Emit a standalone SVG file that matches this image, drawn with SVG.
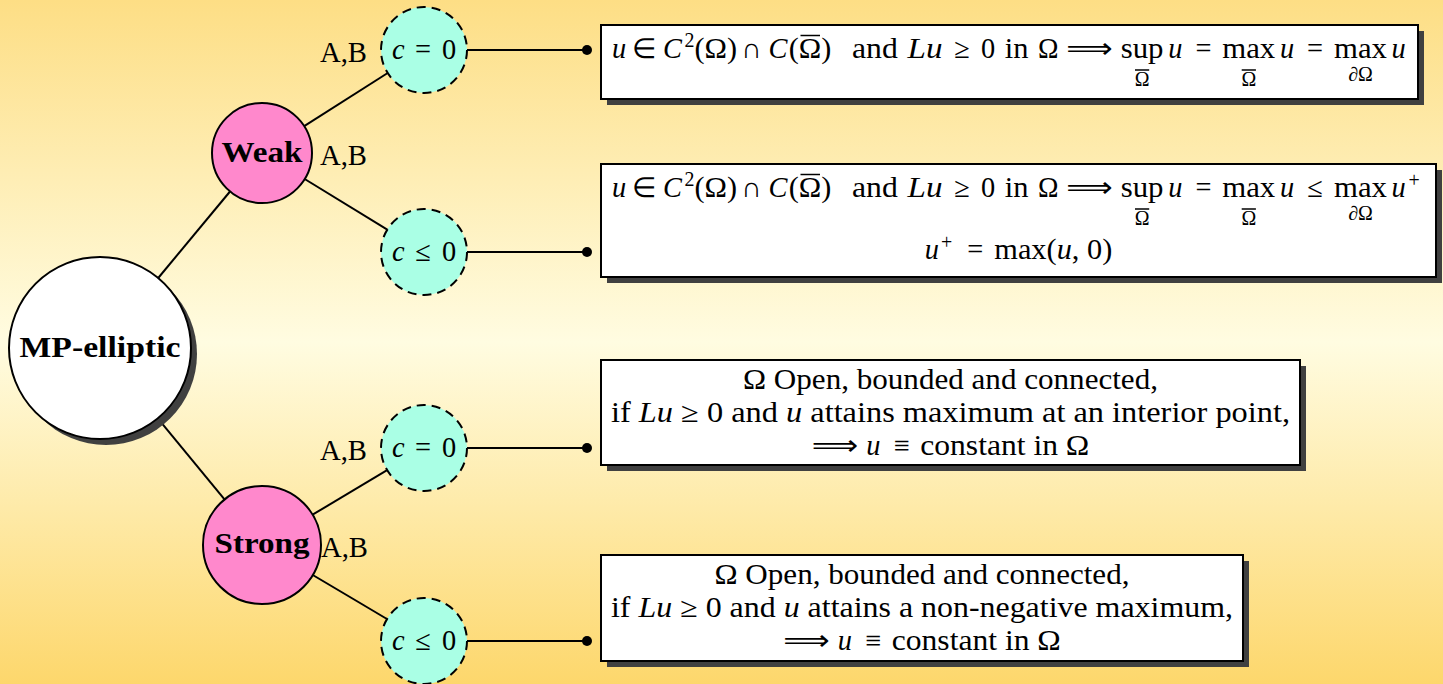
<svg xmlns="http://www.w3.org/2000/svg" width="1443" height="684" viewBox="0 0 1443 684" font-family="Liberation Serif, serif">
<defs>
<linearGradient id="bg" x1="0" y1="0" x2="0" y2="1">
<stop offset="0" stop-color="#FDDE85"/>
<stop offset="0.5" stop-color="#FFFCE1"/>
<stop offset="1" stop-color="#FDD76C"/>
</linearGradient>
</defs>
<style>
text{font-family:'Liberation Serif','Times New Roman',serif;font-size:28.4px;fill:#000}
.i{font-style:italic}
.s{font-size:19.9px}
.b{font-weight:bold}
text.ar{font-family:'DejaVu Sans',sans-serif}
.m{text-anchor:middle}
.edge{stroke:#000;stroke-width:2;fill:none}
.dot{fill:#000}
.shadow{fill:#404040}
.box{fill:#fff;stroke:#000;stroke-width:2}
.cn{fill:#AAFFE5;stroke:#000;stroke-width:2;stroke-dasharray:9 6}
.pk{fill:#FF88CC;stroke:#000;stroke-width:2}
.wh{fill:#fff;stroke:#000;stroke-width:2}
.ol{stroke:#000;stroke-width:1.5}
</style>
<rect x="0" y="0" width="1443" height="684" fill="url(#bg)"/>

<g id="connectors">
<line class="edge" x1="158.2" y1="278" x2="230" y2="191.5"/>
<line class="edge" x1="157.8" y1="418.3" x2="224.5" y2="499.4"/>
<line class="edge" x1="304.2" y1="126.2" x2="387.7" y2="73"/>
<line class="edge" x1="304.7" y1="179" x2="387.3" y2="229.6"/>
<line class="edge" x1="312.6" y1="514.7" x2="387.1" y2="470.1"/>
<line class="edge" x1="312.8" y1="575" x2="387" y2="619"/>
<line class="edge" x1="467" y1="50" x2="587" y2="50"/>
<circle class="dot" cx="587" cy="50" r="5"/>
<line class="edge" x1="467" y1="252" x2="587" y2="252"/>
<circle class="dot" cx="587" cy="252" r="5"/>
<line class="edge" x1="467" y1="448" x2="587" y2="448"/>
<circle class="dot" cx="587" cy="448" r="5"/>
<line class="edge" x1="467" y1="641" x2="587" y2="641"/>
<circle class="dot" cx="587" cy="641" r="5"/>
<text x="320" y="62" textLength="47" lengthAdjust="spacingAndGlyphs">A,B</text>
<text x="320" y="165" textLength="47" lengthAdjust="spacingAndGlyphs">A,B</text>
<text x="320" y="460" textLength="47" lengthAdjust="spacingAndGlyphs">A,B</text>
<text x="321" y="557" textLength="47" lengthAdjust="spacingAndGlyphs">A,B</text>
</g>

<g id="mp">
<circle class="shadow" cx="106" cy="354" r="91"/>
<circle class="wh" cx="100" cy="348" r="91"/>
<text class="b" x="19.5" y="357" textLength="161" lengthAdjust="spacingAndGlyphs">MP-elliptic</text>
</g>

<g id="weak">
<circle class="pk" cx="262" cy="153" r="50"/>
<text class="b" x="221.5" y="162" textLength="81" lengthAdjust="spacingAndGlyphs">Weak</text>
</g>

<g id="strong">
<circle class="pk" cx="262" cy="545" r="59"/>
<text class="b" x="214.5" y="553" textLength="95" lengthAdjust="spacingAndGlyphs">Strong</text>
</g>

<g id="c1">
<circle class="cn" cx="424" cy="50" r="43"/>
<text class="i" x="392" y="59">c</text>
<text class="m" x="423" y="59">=</text>
<text x="442" y="59">0</text>
</g>
<g id="c2">
<circle class="cn" cx="424" cy="252" r="43"/>
<text class="i" x="392" y="261">c</text>
<text class="m" x="423" y="261">≤</text>
<text x="442" y="261">0</text>
</g>
<g id="c3">
<circle class="cn" cx="424" cy="448" r="43"/>
<text class="i" x="392" y="457">c</text>
<text class="m" x="423" y="457">=</text>
<text x="442" y="457">0</text>
</g>
<g id="c4">
<circle class="cn" cx="424" cy="641" r="43"/>
<text class="i" x="392" y="650">c</text>
<text class="m" x="423" y="650">≤</text>
<text x="442" y="650">0</text>
</g>

<g id="box1">
<rect class="shadow" x="607" y="31" width="817" height="74"/>
<rect class="box" x="601" y="25" width="817" height="74"/>
<text class="i" x="612" y="58">u</text>
<text class="m" x="644.4" y="58">∈</text>
<text class="i" x="663" y="58">C</text>
<text class="s" x="684.4" y="46.6">2</text>
<text x="694.4" y="58" textLength="42.6" lengthAdjust="spacingAndGlyphs">(Ω)</text>
<text class="m" x="751.5" y="58">∩</text>
<text class="i" x="768.5" y="58">C</text>
<text x="788.8" y="58" textLength="42.6" lengthAdjust="spacingAndGlyphs">(Ω)</text>
<line class="ol" x1="800.5" y1="35.5" x2="820" y2="35.5"/>
<text x="852" y="58" textLength="45.8" lengthAdjust="spacingAndGlyphs">and</text>
<text class="i" x="907.5" y="58" textLength="35" lengthAdjust="spacingAndGlyphs">Lu</text>
<text class="m" x="962" y="58">≥</text>
<text x="981" y="58">0</text>
<text x="1004.7" y="58" textLength="23.7" lengthAdjust="spacingAndGlyphs">in</text>
<text x="1037.9" y="58" textLength="20.5" lengthAdjust="spacingAndGlyphs">Ω</text>
<text class="ar" x="1066.3" y="58" textLength="46.5" lengthAdjust="spacingAndGlyphs">⟹</text>
<text x="1120.7" y="58" textLength="42.8" lengthAdjust="spacingAndGlyphs">sup</text>
<text class="i" x="1168.2" y="58">u</text>
<text class="m" x="1203.4" y="58">=</text>
<text x="1222.3" y="58" textLength="52.9" lengthAdjust="spacingAndGlyphs">max</text>
<text class="i" x="1279.9" y="58">u</text>
<text class="m" x="1315.1" y="58">=</text>
<text x="1334" y="58" textLength="52.9" lengthAdjust="spacingAndGlyphs">max</text>
<text class="i" x="1391.6" y="58">u</text>
<text class="s m" x="1142.1" y="86">Ω</text>
<line class="ol" x1="1135" y1="70" x2="1149.2" y2="70"/>
<text class="s m" x="1248.8" y="86">Ω</text>
<line class="ol" x1="1241.7" y1="70" x2="1255.9" y2="70"/>
<text class="s m" x="1360.5" y="81">∂Ω</text>
</g>

<g id="box2">
<rect class="shadow" x="607" y="170" width="835" height="113"/>
<rect class="box" x="601" y="164" width="835" height="113"/>
<text class="i" x="612" y="197">u</text>
<text class="m" x="644.4" y="197">∈</text>
<text class="i" x="663" y="197">C</text>
<text class="s" x="684.4" y="185.6">2</text>
<text x="694.4" y="197" textLength="42.6" lengthAdjust="spacingAndGlyphs">(Ω)</text>
<text class="m" x="751.5" y="197">∩</text>
<text class="i" x="768.5" y="197">C</text>
<text x="788.8" y="197" textLength="42.6" lengthAdjust="spacingAndGlyphs">(Ω)</text>
<line class="ol" x1="800.5" y1="174.5" x2="820" y2="174.5"/>
<text x="852" y="197" textLength="45.8" lengthAdjust="spacingAndGlyphs">and</text>
<text class="i" x="907.5" y="197" textLength="35" lengthAdjust="spacingAndGlyphs">Lu</text>
<text class="m" x="962" y="197">≥</text>
<text x="981" y="197">0</text>
<text x="1004.7" y="197" textLength="23.7" lengthAdjust="spacingAndGlyphs">in</text>
<text x="1037.9" y="197" textLength="20.5" lengthAdjust="spacingAndGlyphs">Ω</text>
<text class="ar" x="1066.3" y="197" textLength="46.5" lengthAdjust="spacingAndGlyphs">⟹</text>
<text x="1120.7" y="197" textLength="42.8" lengthAdjust="spacingAndGlyphs">sup</text>
<text class="i" x="1168.2" y="197">u</text>
<text class="m" x="1203.4" y="197">=</text>
<text x="1222.3" y="197" textLength="52.9" lengthAdjust="spacingAndGlyphs">max</text>
<text class="i" x="1279.9" y="197">u</text>
<text class="m" x="1315.1" y="197">≤</text>
<text x="1334" y="197" textLength="52.9" lengthAdjust="spacingAndGlyphs">max</text>
<text class="i" x="1391.6" y="197">u</text>
<text class="s" x="1408.5" y="187">+</text>
<text class="s m" x="1142.1" y="225">Ω</text>
<line class="ol" x1="1135" y1="209" x2="1149.2" y2="209"/>
<text class="s m" x="1248.8" y="225">Ω</text>
<line class="ol" x1="1241.7" y1="209" x2="1255.9" y2="209"/>
<text class="s m" x="1360.5" y="220">∂Ω</text>
<text class="i" x="924.7" y="259">u</text>
<text class="s" x="941" y="249">+</text>
<text class="m" x="975.3" y="259">=</text>
<text x="994.3" y="259" textLength="118" lengthAdjust="spacingAndGlyphs">max(<tspan class="i">u</tspan>, 0)</text>
</g>

<g id="box3">
<rect class="shadow" x="607" y="366" width="699" height="105"/>
<rect class="box" x="601" y="360" width="699" height="105"/>
<text x="743" y="389" textLength="415" lengthAdjust="spacingAndGlyphs">Ω Open, bounded and connected,</text>
<text x="611" y="422" textLength="679" lengthAdjust="spacingAndGlyphs">if <tspan class="i">Lu</tspan> ≥ 0 and <tspan class="i">u</tspan> attains maximum at an interior point,</text>
<text class="ar" x="811.75" y="455" textLength="46.5" lengthAdjust="spacingAndGlyphs">⟹</text>
<text class="i" x="866.2" y="455">u</text>
<text class="m" x="901.4" y="455">≡</text>
<text x="920.3" y="455" textLength="169" lengthAdjust="spacingAndGlyphs">constant in Ω</text>
</g>

<g id="box4">
<rect class="shadow" x="607" y="561" width="642" height="106"/>
<rect class="box" x="601" y="555" width="642" height="106"/>
<text x="714.5" y="584" textLength="415" lengthAdjust="spacingAndGlyphs">Ω Open, bounded and connected,</text>
<text x="611" y="617" textLength="622" lengthAdjust="spacingAndGlyphs">if <tspan class="i">Lu</tspan> ≥ 0 and <tspan class="i">u</tspan> attains a non-negative maximum,</text>
<text class="ar" x="783.25" y="650" textLength="46.5" lengthAdjust="spacingAndGlyphs">⟹</text>
<text class="i" x="837.7" y="650">u</text>
<text class="m" x="872.9" y="650">≡</text>
<text x="891.8" y="650" textLength="169" lengthAdjust="spacingAndGlyphs">constant in Ω</text>
</g>
</svg>
